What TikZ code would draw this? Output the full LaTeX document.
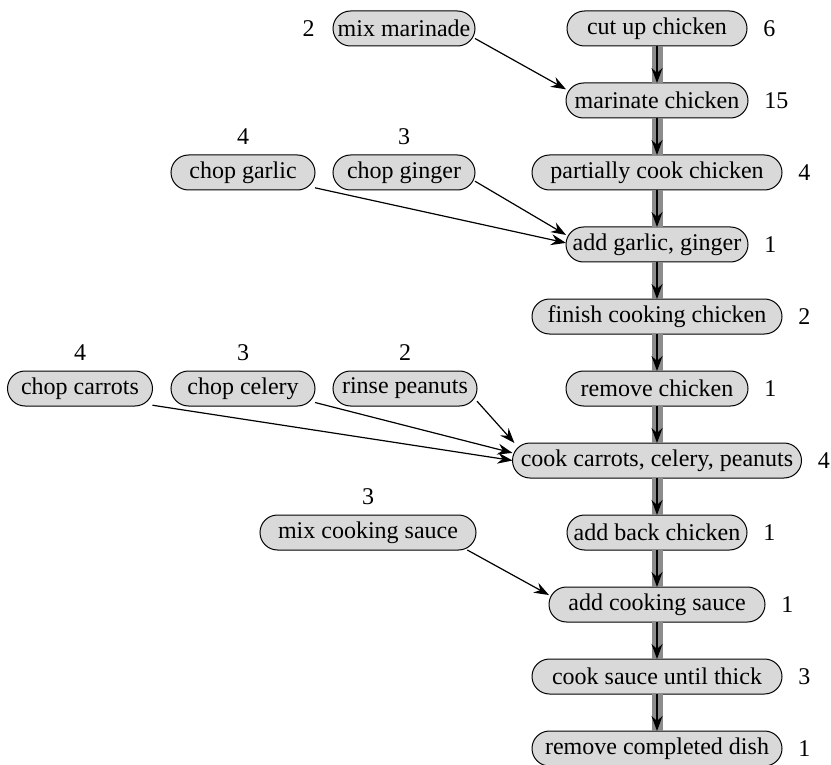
\documentclass[tikz,border=0pt]{standalone}
\usepackage{fontspec}
\setmainfont{Liberation Serif}
\usetikzlibrary{arrows.meta,positioning}
\definecolor{boxgray}{HTML}{D9D9D9}
\definecolor{pathgray}{HTML}{8C8C8C}

\begin{document}
\begin{tikzpicture}[
  x=0.5pt,y=-0.5pt,
  font=\fontsize{12}{14}\selectfont,
  task/.style={draw,fill=boxgray,line width=0.5pt,rounded corners=8.75pt,
               minimum height=17.5pt,minimum width=#1,inner xsep=2pt,inner ysep=0pt,
               outer sep=0pt},
  task/.default=91pt,
  dur/.style={inner sep=0pt},
  dep/.style={-{Stealth[length=7.5pt,width=5.5pt,inset=2.5pt]},line width=0.6pt},
  critbar/.style={line width=5.5pt,pathgray},
  crit/.style={-{Stealth[length=7.5pt,width=5.5pt,inset=2.5pt]},line width=0.6pt},
  node distance=18.5pt
]
  \useasboundingbox (0,0) rectangle (831,765);
  % critical path
  \node[task=90pt] (cut) at (657,28.5) {cut up chicken};
  \node[task,below=of cut] (marinate) {marinate chicken};
  \node[task=125pt,below=of marinate] (pcook) {partially cook chicken};
  \node[task,below=of pcook] (addgg) {add garlic, ginger};
  \node[task=125pt,below=of addgg] (finish) {finish cooking chicken};
  \node[task,below=of finish] (remove) {remove chicken};
  \node[task=144.5pt,below=of remove] (cookveg) {cook carrots, celery, peanuts};
  \node[task=90pt,below=of cookveg] (addback) {add back chicken};
  \node[task=108pt,below=of addback] (addsauce) {add cooking sauce};
  \node[task=125pt,below=of addsauce] (thick) {cook sauce until thick};
  \node[task=125pt,below=of thick] (done) {remove completed dish};
  % side tasks
  \node[task=71pt] (mixmar) at (404,0 |- cut) {mix marinade};
  \node[task=72pt] (garlic) at (243,0 |- pcook) {chop garlic};
  \node[task=71pt] (ginger) at (404,0 |- pcook) {chop ginger};
  \node[task=72.5pt] (carrots) at (80,0 |- remove) {chop carrots};
  \node[task=72pt] (celery) at (243,0 |- remove) {chop celery};
  \node[task=72pt] (peanuts) at (405,0 |- remove) {rinse peanuts};
  \node[task=108pt] (mixsauce) at (368,0 |- addback) {mix cooking sauce};
  % durations
  \foreach \n/\d in {cut/6,marinate/15,pcook/4,addgg/1,finish/2,remove/1,
                     cookveg/4,addback/1,addsauce/1,thick/3,done/1}
    \node[dur,right=8pt of \n] (d\n) {\d};
  \node[dur,left=9pt of mixmar] (dmixmar) {2};
  \foreach \n/\d in {garlic/4,ginger/3,carrots/4,celery/3,peanuts/2,mixsauce/3}
    \node[dur,above=5pt of \n] (d\n) {\d};
  % arrows
  \foreach \a/\b in {cut/marinate,marinate/pcook,pcook/addgg,addgg/finish,
                     finish/remove,remove/cookveg,cookveg/addback,
                     addback/addsauce,addsauce/thick,thick/done}{
    \draw[critbar] (\a) -- (\b);
    \draw[crit] (\a) -- (\b);
  }
  \draw[dep] (mixmar.-8) -- (marinate.173);
  \draw[dep] (garlic.-12) -- (addgg.179);
  \draw[dep] (ginger.-7) -- (addgg.174);
  \draw[dep] (carrots.-13) -- (cookveg.180);
  \draw[dep] (celery.-11) -- (cookveg.177);
  \draw[dep] (peanuts.-10) -- (cookveg.173);
  \draw[dep] (mixsauce.-10) -- (addsauce.175);
\end{tikzpicture}
\end{document}
